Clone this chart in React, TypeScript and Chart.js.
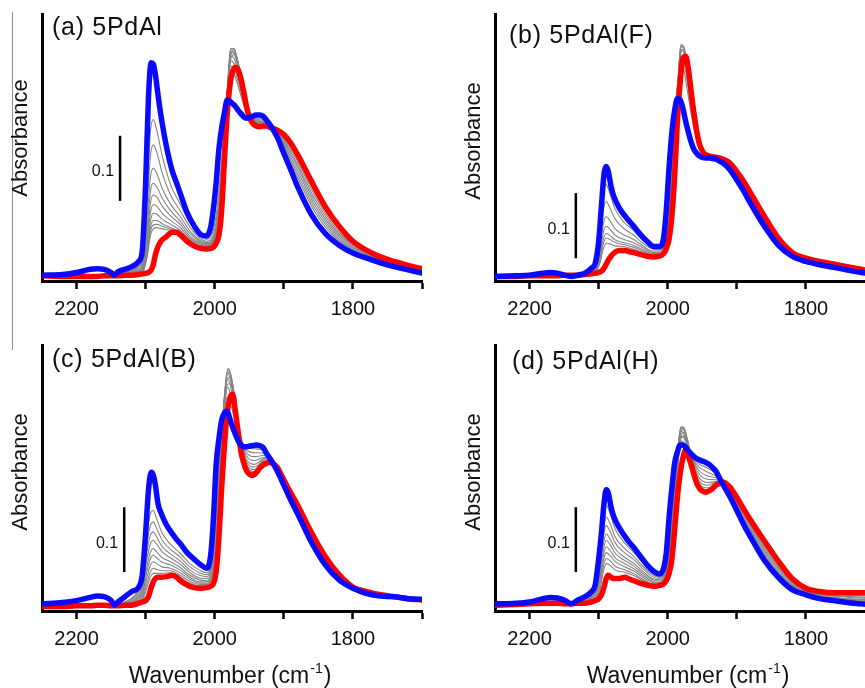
import { useEffect, useRef } from "react";
import { Chart, registerables } from "chart.js";

Chart.register(...registerables);

// ---------- data ----------
const WAVENUMBERS = [
  2250, 2220, 2200, 2180, 2170, 2160, 2150, 2145, 2140, 2130,
  2120, 2110, 2105, 2100, 2096, 2092, 2089, 2086, 2082, 2078,
  2070, 2062, 2055, 2050, 2040, 2030, 2020, 2012, 2006, 2002,
  1998, 1994, 1990, 1986, 1982, 1978, 1974, 1970, 1966, 1962,
  1958, 1954, 1950, 1945, 1940, 1935, 1930, 1925, 1920, 1910,
  1900, 1890, 1880, 1860, 1840, 1820, 1800, 1780, 1760, 1740,
  1720, 1700,
];

const GRAY_WAVENUMBERS = [
  2135, 2112, 2104, 2098, 2093, 2089, 2084, 2076, 2064, 2050,
  2036, 2022, 2012, 2004, 1998, 1992, 1986, 1981, 1977, 1972,
  1965, 1955, 1942, 1928, 1910, 1885, 1855, 1825, 1790, 1750,
  1700,
];

const X_TICK_LABELS = [2200, 2000, 1800];
const PANEL_LABELS = ["(a) 5PdAl", "(b) 5PdAl(F)", "(c) 5PdAl(B)", "(d) 5PdAl(H)"];
const Y_TITLE = "Absorbance";
const SCALE_BAR_VALUE = 0.1;
const SCALE_BAR_LABEL = "0.1";

// panel (a)
const RED_A = [
  0.008, 0.007, 0.007, 0.007, 0.007, 0.008, 0.008, 0.008, 0.008, 0.009,
  0.009, 0.010, 0.011, 0.012, 0.013, 0.017, 0.025, 0.040, 0.053, 0.061,
  0.068, 0.075, 0.075, 0.071, 0.061, 0.054, 0.050, 0.049, 0.050, 0.052,
  0.058, 0.070, 0.108, 0.185, 0.255, 0.300, 0.322, 0.328, 0.324, 0.310,
  0.290, 0.268, 0.252, 0.242, 0.238, 0.237, 0.238, 0.238, 0.236, 0.232,
  0.225, 0.212, 0.194, 0.153, 0.114, 0.084, 0.061, 0.047, 0.037, 0.030,
  0.024, 0.019,
];
const BLUE_A = [
  0.009, 0.010, 0.013, 0.018, 0.019, 0.018, 0.013, 0.009, 0.014, 0.018,
  0.022, 0.030, 0.045, 0.150, 0.280, 0.335, 0.333, 0.318, 0.285, 0.255,
  0.207, 0.171, 0.150, 0.135, 0.105, 0.085, 0.071, 0.069, 0.082, 0.110,
  0.150, 0.202, 0.235, 0.258, 0.278, 0.276, 0.272, 0.268, 0.262, 0.257,
  0.252, 0.250, 0.251, 0.253, 0.255, 0.255, 0.253, 0.247, 0.240, 0.222,
  0.196, 0.171, 0.145, 0.102, 0.073, 0.055, 0.043, 0.035, 0.028, 0.022,
  0.017, 0.012,
];
const GRAY_A = [
  [0.012, 0.022, 0.045, 0.140, 0.230, 0.248, 0.232, 0.192, 0.148, 0.118, 0.090, 0.070, 0.064, 0.072, 0.100, 0.160, 0.240, 0.300, 0.322, 0.318, 0.295, 0.262, 0.250, 0.248, 0.225, 0.170, 0.106, 0.066, 0.043, 0.028, 0.014],
  [0.012, 0.020, 0.038, 0.115, 0.192, 0.209, 0.198, 0.166, 0.132, 0.108, 0.083, 0.066, 0.061, 0.066, 0.090, 0.148, 0.232, 0.300, 0.330, 0.326, 0.302, 0.264, 0.248, 0.247, 0.226, 0.175, 0.111, 0.069, 0.045, 0.029, 0.015],
  [0.011, 0.018, 0.032, 0.095, 0.160, 0.173, 0.166, 0.142, 0.118, 0.099, 0.077, 0.063, 0.059, 0.063, 0.083, 0.138, 0.226, 0.302, 0.338, 0.334, 0.308, 0.266, 0.247, 0.245, 0.227, 0.180, 0.116, 0.072, 0.046, 0.029, 0.015],
  [0.011, 0.016, 0.027, 0.080, 0.138, 0.150, 0.145, 0.127, 0.108, 0.092, 0.073, 0.061, 0.057, 0.061, 0.078, 0.130, 0.220, 0.303, 0.345, 0.342, 0.314, 0.268, 0.246, 0.244, 0.228, 0.185, 0.121, 0.075, 0.048, 0.030, 0.016],
  [0.011, 0.015, 0.023, 0.068, 0.120, 0.132, 0.129, 0.115, 0.100, 0.087, 0.069, 0.059, 0.056, 0.059, 0.074, 0.124, 0.215, 0.304, 0.352, 0.350, 0.320, 0.270, 0.245, 0.243, 0.229, 0.189, 0.126, 0.078, 0.049, 0.031, 0.016],
  [0.010, 0.014, 0.020, 0.058, 0.105, 0.117, 0.115, 0.104, 0.093, 0.082, 0.066, 0.057, 0.055, 0.058, 0.070, 0.118, 0.210, 0.305, 0.357, 0.356, 0.325, 0.272, 0.244, 0.242, 0.230, 0.193, 0.131, 0.081, 0.050, 0.031, 0.017],
  [0.010, 0.013, 0.018, 0.050, 0.092, 0.104, 0.103, 0.095, 0.087, 0.078, 0.064, 0.055, 0.054, 0.057, 0.067, 0.112, 0.205, 0.305, 0.356, 0.357, 0.328, 0.273, 0.243, 0.241, 0.231, 0.197, 0.136, 0.085, 0.052, 0.032, 0.017],
  [0.010, 0.012, 0.016, 0.044, 0.082, 0.093, 0.093, 0.088, 0.082, 0.075, 0.062, 0.054, 0.053, 0.056, 0.064, 0.106, 0.200, 0.300, 0.350, 0.355, 0.330, 0.274, 0.242, 0.240, 0.231, 0.200, 0.140, 0.088, 0.053, 0.032, 0.018],
  [0.010, 0.011, 0.015, 0.040, 0.076, 0.086, 0.087, 0.084, 0.080, 0.074, 0.061, 0.053, 0.052, 0.055, 0.062, 0.100, 0.196, 0.298, 0.346, 0.352, 0.330, 0.275, 0.241, 0.239, 0.232, 0.201, 0.142, 0.089, 0.053, 0.033, 0.018],
  [0.009, 0.011, 0.014, 0.036, 0.070, 0.080, 0.082, 0.080, 0.078, 0.073, 0.060, 0.052, 0.051, 0.054, 0.061, 0.096, 0.193, 0.292, 0.340, 0.348, 0.328, 0.275, 0.241, 0.239, 0.232, 0.202, 0.143, 0.090, 0.054, 0.033, 0.019],
];

// panel (b)
const RED_B = [
  0.007, 0.007, 0.008, 0.008, 0.008, 0.008, 0.009, 0.009, 0.009, 0.009,
  0.010, 0.011, 0.012, 0.013, 0.015, 0.020, 0.026, 0.032, 0.038, 0.043,
  0.047, 0.047, 0.045, 0.044, 0.041, 0.038, 0.037, 0.038, 0.042, 0.050,
  0.065, 0.100, 0.160, 0.245, 0.305, 0.342, 0.345, 0.325, 0.290, 0.257,
  0.230, 0.210, 0.200, 0.194, 0.192, 0.191, 0.190, 0.189, 0.187, 0.181,
  0.168, 0.153, 0.135, 0.099, 0.066, 0.044, 0.035, 0.030, 0.026, 0.022,
  0.018, 0.014,
];
const BLUE_B = [
  0.007, 0.008, 0.009, 0.012, 0.013, 0.012, 0.009, 0.008, 0.007, 0.009,
  0.012, 0.020, 0.027, 0.060, 0.115, 0.166, 0.176, 0.168, 0.145, 0.130,
  0.112, 0.100, 0.091, 0.085, 0.072, 0.061, 0.053, 0.053, 0.066, 0.110,
  0.175, 0.228, 0.262, 0.280, 0.278, 0.265, 0.245, 0.228, 0.213, 0.202,
  0.196, 0.192, 0.190, 0.189, 0.189, 0.188, 0.187, 0.184, 0.181, 0.171,
  0.155, 0.138, 0.119, 0.084, 0.055, 0.038, 0.030, 0.025, 0.021, 0.017,
  0.013, 0.011,
];
const GRAY_B = [
  [0.010, 0.016, 0.030, 0.075, 0.135, 0.148, 0.135, 0.110, 0.091, 0.078, 0.063, 0.052, 0.051, 0.070, 0.140, 0.230, 0.300, 0.330, 0.325, 0.295, 0.250, 0.205, 0.191, 0.188, 0.175, 0.134, 0.081, 0.044, 0.028, 0.020, 0.012],
  [0.010, 0.015, 0.026, 0.062, 0.110, 0.122, 0.113, 0.095, 0.081, 0.071, 0.058, 0.049, 0.048, 0.062, 0.120, 0.215, 0.300, 0.345, 0.340, 0.308, 0.258, 0.207, 0.191, 0.188, 0.176, 0.136, 0.083, 0.045, 0.029, 0.021, 0.012],
  [0.010, 0.014, 0.022, 0.050, 0.089, 0.099, 0.093, 0.080, 0.071, 0.064, 0.054, 0.046, 0.046, 0.057, 0.105, 0.200, 0.295, 0.355, 0.352, 0.318, 0.264, 0.209, 0.192, 0.188, 0.177, 0.138, 0.085, 0.046, 0.030, 0.021, 0.013],
  [0.010, 0.013, 0.019, 0.042, 0.075, 0.084, 0.080, 0.070, 0.064, 0.059, 0.051, 0.044, 0.044, 0.054, 0.095, 0.190, 0.290, 0.361, 0.358, 0.325, 0.269, 0.210, 0.192, 0.189, 0.178, 0.140, 0.087, 0.047, 0.030, 0.022, 0.013],
  [0.010, 0.012, 0.017, 0.036, 0.065, 0.073, 0.070, 0.063, 0.059, 0.055, 0.048, 0.042, 0.042, 0.052, 0.088, 0.180, 0.285, 0.363, 0.360, 0.330, 0.273, 0.211, 0.192, 0.189, 0.179, 0.141, 0.088, 0.048, 0.031, 0.022, 0.013],
  [0.010, 0.012, 0.015, 0.032, 0.058, 0.066, 0.064, 0.059, 0.056, 0.052, 0.046, 0.041, 0.041, 0.050, 0.082, 0.170, 0.280, 0.358, 0.360, 0.333, 0.276, 0.212, 0.193, 0.189, 0.180, 0.142, 0.089, 0.048, 0.031, 0.023, 0.013],
  [0.010, 0.011, 0.014, 0.028, 0.050, 0.058, 0.057, 0.054, 0.053, 0.049, 0.044, 0.040, 0.040, 0.048, 0.076, 0.160, 0.272, 0.350, 0.356, 0.335, 0.279, 0.213, 0.193, 0.190, 0.180, 0.143, 0.090, 0.049, 0.031, 0.023, 0.014],
];

// panel (c)
const RED_C = [
  0.007, 0.007, 0.008, 0.008, 0.009, 0.009, 0.008, 0.008, 0.008, 0.009,
  0.009, 0.012, 0.014, 0.016, 0.022, 0.036, 0.045, 0.050, 0.052, 0.052,
  0.053, 0.055, 0.052, 0.047, 0.040, 0.036, 0.035, 0.036, 0.038, 0.042,
  0.060, 0.112, 0.190, 0.255, 0.305, 0.328, 0.334, 0.307, 0.275, 0.245,
  0.228, 0.216, 0.211, 0.209, 0.213, 0.220, 0.225, 0.228, 0.229, 0.222,
  0.202, 0.182, 0.163, 0.121, 0.084, 0.056, 0.037, 0.030, 0.025, 0.022,
  0.019, 0.017,
];
const BLUE_C = [
  0.011, 0.013, 0.016, 0.021, 0.023, 0.022, 0.016, 0.009, 0.014, 0.022,
  0.030, 0.037, 0.055, 0.120, 0.185, 0.214, 0.210, 0.195, 0.165, 0.152,
  0.133, 0.120, 0.110, 0.104, 0.090, 0.080, 0.071, 0.066, 0.085, 0.140,
  0.225, 0.265, 0.294, 0.305, 0.308, 0.296, 0.283, 0.272, 0.262, 0.256,
  0.253, 0.253, 0.254, 0.255, 0.256, 0.255, 0.252, 0.243, 0.235, 0.217,
  0.194, 0.171, 0.150, 0.106, 0.071, 0.048, 0.035, 0.027, 0.023, 0.022,
  0.019, 0.018,
];
const GRAY_C = [
  [0.011, 0.030, 0.055, 0.120, 0.150, 0.155, 0.142, 0.120, 0.103, 0.089, 0.073, 0.063, 0.059, 0.085, 0.180, 0.265, 0.315, 0.330, 0.318, 0.300, 0.272, 0.252, 0.250, 0.246, 0.218, 0.163, 0.098, 0.055, 0.032, 0.022, 0.018],
  [0.011, 0.027, 0.049, 0.105, 0.132, 0.137, 0.127, 0.109, 0.095, 0.083, 0.068, 0.059, 0.056, 0.078, 0.165, 0.258, 0.320, 0.345, 0.333, 0.310, 0.276, 0.250, 0.244, 0.243, 0.219, 0.164, 0.099, 0.056, 0.032, 0.022, 0.018],
  [0.010, 0.024, 0.043, 0.092, 0.117, 0.122, 0.114, 0.099, 0.088, 0.077, 0.063, 0.055, 0.053, 0.072, 0.150, 0.250, 0.325, 0.358, 0.346, 0.318, 0.279, 0.246, 0.238, 0.240, 0.220, 0.165, 0.100, 0.057, 0.032, 0.022, 0.018],
  [0.010, 0.021, 0.038, 0.081, 0.104, 0.109, 0.103, 0.091, 0.082, 0.072, 0.059, 0.051, 0.050, 0.066, 0.135, 0.240, 0.328, 0.366, 0.356, 0.326, 0.281, 0.241, 0.232, 0.237, 0.221, 0.166, 0.101, 0.058, 0.032, 0.022, 0.018],
  [0.010, 0.019, 0.033, 0.070, 0.091, 0.096, 0.091, 0.082, 0.076, 0.067, 0.055, 0.048, 0.047, 0.060, 0.120, 0.230, 0.330, 0.372, 0.363, 0.332, 0.283, 0.236, 0.226, 0.235, 0.222, 0.167, 0.102, 0.058, 0.032, 0.022, 0.018],
  [0.010, 0.017, 0.029, 0.061, 0.081, 0.086, 0.082, 0.075, 0.071, 0.063, 0.052, 0.045, 0.045, 0.055, 0.108, 0.220, 0.330, 0.374, 0.366, 0.336, 0.284, 0.232, 0.222, 0.233, 0.222, 0.168, 0.103, 0.059, 0.033, 0.023, 0.018],
  [0.009, 0.015, 0.025, 0.052, 0.071, 0.076, 0.073, 0.068, 0.066, 0.059, 0.049, 0.043, 0.043, 0.051, 0.095, 0.205, 0.325, 0.368, 0.364, 0.336, 0.283, 0.228, 0.218, 0.231, 0.222, 0.169, 0.104, 0.060, 0.033, 0.023, 0.018],
  [0.009, 0.014, 0.021, 0.043, 0.061, 0.066, 0.064, 0.062, 0.062, 0.055, 0.046, 0.041, 0.041, 0.048, 0.085, 0.190, 0.318, 0.360, 0.358, 0.334, 0.281, 0.225, 0.215, 0.229, 0.222, 0.170, 0.105, 0.060, 0.033, 0.023, 0.018],
  [0.009, 0.013, 0.018, 0.036, 0.053, 0.058, 0.058, 0.058, 0.059, 0.052, 0.043, 0.039, 0.039, 0.045, 0.075, 0.175, 0.305, 0.350, 0.350, 0.330, 0.278, 0.222, 0.213, 0.228, 0.222, 0.170, 0.106, 0.061, 0.033, 0.023, 0.018],
];

// panel (d)
const RED_D = [
  0.009, 0.010, 0.011, 0.012, 0.012, 0.012, 0.011, 0.011, 0.011, 0.012,
  0.012, 0.014, 0.016, 0.019, 0.025, 0.038, 0.050, 0.055, 0.052, 0.050,
  0.050, 0.052, 0.049, 0.047, 0.043, 0.040, 0.038, 0.039, 0.042, 0.047,
  0.058, 0.080, 0.125, 0.175, 0.212, 0.236, 0.248, 0.238, 0.225, 0.210,
  0.197, 0.189, 0.185, 0.183, 0.185, 0.189, 0.194, 0.197, 0.199, 0.191,
  0.175, 0.157, 0.140, 0.108, 0.077, 0.050, 0.035, 0.030, 0.028, 0.028,
  0.028, 0.028,
];
const BLUE_D = [
  0.011, 0.012, 0.014, 0.019, 0.021, 0.020, 0.017, 0.014, 0.011, 0.017,
  0.022, 0.030, 0.040, 0.080, 0.120, 0.168, 0.187, 0.182, 0.160, 0.145,
  0.128, 0.115, 0.105, 0.099, 0.085, 0.071, 0.061, 0.057, 0.066, 0.090,
  0.145, 0.190, 0.228, 0.245, 0.256, 0.256, 0.252, 0.247, 0.242, 0.238,
  0.235, 0.233, 0.231, 0.229, 0.226, 0.221, 0.215, 0.205, 0.195, 0.176,
  0.155, 0.133, 0.114, 0.078, 0.052, 0.033, 0.025, 0.019, 0.016, 0.013,
  0.011, 0.009,
];
const GRAY_D = [
  [0.013, 0.026, 0.045, 0.090, 0.142, 0.163, 0.152, 0.126, 0.107, 0.091, 0.074, 0.059, 0.054, 0.070, 0.130, 0.200, 0.245, 0.262, 0.260, 0.252, 0.240, 0.231, 0.225, 0.211, 0.178, 0.127, 0.075, 0.040, 0.023, 0.016, 0.011],
  [0.013, 0.024, 0.041, 0.080, 0.127, 0.145, 0.136, 0.114, 0.098, 0.085, 0.069, 0.056, 0.052, 0.065, 0.120, 0.192, 0.245, 0.270, 0.267, 0.256, 0.240, 0.227, 0.220, 0.209, 0.180, 0.130, 0.078, 0.042, 0.024, 0.017, 0.013],
  [0.013, 0.022, 0.037, 0.072, 0.116, 0.132, 0.124, 0.105, 0.091, 0.080, 0.065, 0.053, 0.050, 0.061, 0.110, 0.185, 0.245, 0.277, 0.274, 0.260, 0.239, 0.222, 0.214, 0.206, 0.182, 0.133, 0.081, 0.044, 0.025, 0.018, 0.014],
  [0.013, 0.020, 0.033, 0.064, 0.104, 0.119, 0.112, 0.096, 0.084, 0.074, 0.061, 0.050, 0.048, 0.057, 0.100, 0.177, 0.243, 0.282, 0.280, 0.264, 0.238, 0.217, 0.208, 0.204, 0.184, 0.136, 0.084, 0.046, 0.026, 0.019, 0.016],
  [0.013, 0.019, 0.030, 0.058, 0.095, 0.109, 0.103, 0.089, 0.079, 0.070, 0.058, 0.048, 0.046, 0.054, 0.092, 0.168, 0.240, 0.284, 0.283, 0.266, 0.236, 0.212, 0.203, 0.202, 0.186, 0.139, 0.087, 0.048, 0.027, 0.020, 0.017],
  [0.013, 0.018, 0.027, 0.052, 0.086, 0.099, 0.094, 0.082, 0.074, 0.066, 0.055, 0.046, 0.044, 0.052, 0.085, 0.160, 0.235, 0.282, 0.283, 0.266, 0.234, 0.206, 0.198, 0.200, 0.187, 0.141, 0.090, 0.050, 0.028, 0.022, 0.019],
  [0.012, 0.017, 0.024, 0.046, 0.078, 0.090, 0.086, 0.076, 0.069, 0.062, 0.052, 0.044, 0.043, 0.050, 0.078, 0.150, 0.228, 0.278, 0.280, 0.264, 0.231, 0.201, 0.194, 0.199, 0.188, 0.143, 0.093, 0.052, 0.029, 0.023, 0.021],
  [0.012, 0.016, 0.021, 0.040, 0.070, 0.081, 0.078, 0.069, 0.064, 0.058, 0.049, 0.042, 0.042, 0.048, 0.072, 0.140, 0.220, 0.272, 0.275, 0.261, 0.228, 0.197, 0.190, 0.197, 0.189, 0.145, 0.095, 0.053, 0.030, 0.025, 0.023],
  [0.012, 0.015, 0.019, 0.034, 0.062, 0.073, 0.071, 0.063, 0.060, 0.055, 0.047, 0.041, 0.041, 0.046, 0.066, 0.130, 0.210, 0.265, 0.270, 0.257, 0.225, 0.194, 0.187, 0.196, 0.190, 0.147, 0.097, 0.054, 0.031, 0.026, 0.025],
];

// ---------- layout / style ----------
const FONT = '"Liberation Sans", Arial, Helvetica, sans-serif';
const CANVAS_W = 432;
const Y_AXIS_W = 42;
const PLOT_BOTTOM = 281;
const X_MIN = 1700;
const X_MAX = 2250;
const Y_MIN = 0;
const Y_MAX = 0.41;

type PanelSpec = {
  label: string;
  red: number[];
  blue: number[];
  gray: number[][];
  left: number;
  top: number;
  height: number;
  padTop: number;
  titleDx: number;
  titleBaseline: number;
  barWn: number;
  barFrom: number;
  yTitleY: number;
  xTitleX: number | null;
};

const PANELS: PanelSpec[] = [
  { label: PANEL_LABELS[0], red: RED_A, blue: BLUE_A, gray: GRAY_A, left: 0, top: 0, height: 340, padTop: 14, titleDx: 10, titleBaseline: 35, barWn: 2137, barFrom: 0.123, yTitleY: 138, xTitleX: null },
  { label: PANEL_LABELS[1], red: RED_B, blue: BLUE_B, gray: GRAY_B, left: 453, top: 0, height: 340, padTop: 14, titleDx: 14, titleBaseline: 42.5, barWn: 2133, barFrom: 0.035, yTitleY: 141, xTitleX: null },
  { label: PANEL_LABELS[2], red: RED_C, blue: BLUE_C, gray: GRAY_C, left: 0, top: 330, height: 358, padTop: 15, titleDx: 10, titleBaseline: 36.7, barWn: 2131, barFrom: 0.06, yTitleY: 142, xTitleX: 230 },
  { label: PANEL_LABELS[3], red: RED_D, blue: BLUE_D, gray: GRAY_D, left: 453, top: 330, height: 358, padTop: 15, titleDx: 17, titleBaseline: 39, barWn: 2133, barFrom: 0.06, yTitleY: 142, xTitleX: 235 },
];

function zip(xs: number[], ys: number[]) {
  return xs.map((x, i) => ({ x, y: ys[i] }));
}

function Panel({ spec }: { spec: PanelSpec }) {
  const ref = useRef<HTMLCanvasElement | null>(null);

  useEffect(() => {
    const canvas = ref.current;
    if (!canvas) return;

    const lineCommon = {
      pointRadius: 0,
      pointHoverRadius: 0,
      fill: false,
      cubicInterpolationMode: "monotone" as const,
      borderJoinStyle: "round" as const,
      borderCapStyle: "round" as const,
    };

    const datasets: any[] = [
      { ...lineCommon, label: "final", data: zip(WAVENUMBERS, spec.blue), borderColor: "rgb(10,10,255)", borderWidth: 5.5, order: 0 },
      { ...lineCommon, label: "initial", data: zip(WAVENUMBERS, spec.red), borderColor: "rgb(255,0,0)", borderWidth: 5.5, order: 1 },
      ...spec.gray.map((g, i) => ({
        ...lineCommon,
        label: "t" + (i + 1),
        data: zip(GRAY_WAVENUMBERS, g),
        borderColor: "rgb(132,132,132)",
        borderWidth: 1.1,
        order: 2,
      })),
    ];

    const decor = {
      id: "decor",
      afterDraw(chart: any) {
        const { ctx, chartArea, scales } = chart;
        const xs = scales.x;
        const ys = scales.y;
        ctx.save();
        ctx.fillStyle = "#111";

        // panel label
        ctx.font = `25px ${FONT}`;
        (ctx as any).letterSpacing = "0.7px";
        ctx.textAlign = "left";
        ctx.textBaseline = "alphabetic";
        ctx.fillText(spec.label, chartArea.left + spec.titleDx, spec.titleBaseline);
        (ctx as any).letterSpacing = "0px";

        // y title
        ctx.save();
        ctx.translate(21, spec.yTitleY);
        ctx.rotate(-Math.PI / 2);
        ctx.font = `22px ${FONT}`;
        ctx.textAlign = "center";
        ctx.textBaseline = "middle";
        ctx.fillText(Y_TITLE, 0, 0);
        ctx.restore();

        // scale bar
        const bx = xs.getPixelForValue(spec.barWn);
        const by0 = ys.getPixelForValue(spec.barFrom);
        const by1 = ys.getPixelForValue(spec.barFrom + SCALE_BAR_VALUE);
        ctx.strokeStyle = "#000";
        ctx.lineWidth = 2.5;
        ctx.beginPath();
        ctx.moveTo(bx, by0);
        ctx.lineTo(bx, by1);
        ctx.stroke();
        ctx.font = `16px ${FONT}`;
        ctx.textAlign = "right";
        ctx.textBaseline = "middle";
        ctx.fillText(SCALE_BAR_LABEL, bx - 6, (by0 + by1) / 2 + 3.5);

        // x title
        if (spec.xTitleX !== null) {
          const main = "Wavenumber (cm";
          const sup = "-1";
          const close = ")";
          const base = 352.5;
          ctx.textAlign = "left";
          ctx.textBaseline = "alphabetic";
          ctx.font = `23px ${FONT}`;
          const w1 = ctx.measureText(main).width;
          const w3 = ctx.measureText(close).width;
          ctx.font = `14px ${FONT}`;
          const w2 = ctx.measureText(sup).width;
          const sx = spec.xTitleX - (w1 + w2 + w3 + 2) / 2;
          ctx.font = `23px ${FONT}`;
          ctx.fillText(main, sx, base);
          ctx.font = `14px ${FONT}`;
          ctx.fillText(sup, sx + w1 + 1, base - 10);
          ctx.font = `23px ${FONT}`;
          ctx.fillText(close, sx + w1 + w2 + 2, base);
        }
        ctx.restore();
      },
    };

    const chart = new Chart(canvas, {
      type: "line",
      data: { datasets },
      options: {
        animation: false,
        responsive: false,
        devicePixelRatio: 1,
        layout: { padding: { left: 0, right: 10, top: spec.padTop, bottom: 0 } },
        plugins: { legend: { display: false }, tooltip: { enabled: false } },
        events: [],
        scales: {
          x: {
            type: "linear",
            min: X_MIN,
            max: X_MAX,
            reverse: true,
            afterFit: (s: any) => {
              s.height = spec.height - PLOT_BOTTOM;
            },
            ticks: {
              stepSize: 100,
              includeBounds: false,
              autoSkip: false,
              maxRotation: 0,
              padding: 8,
              color: "#111",
              font: { family: FONT, size: 20 },
              callback: (v: any) => (X_TICK_LABELS.includes(Number(v)) ? String(v) : ""),
            },
            grid: {
              display: true,
              drawOnChartArea: false,
              drawTicks: true,
              tickLength: 8,
              tickWidth: 2.5,
              tickColor: "#000",
              color: "#000",
            },
            border: { display: true, color: "#000", width: 3 },
          },
          y: {
            type: "linear",
            min: Y_MIN,
            max: Y_MAX,
            afterFit: (s: any) => {
              s.width = Y_AXIS_W;
            },
            ticks: { display: false },
            grid: { display: false, drawTicks: false },
            border: { display: true, color: "#000", width: 3 },
          },
        },
      } as any,
      plugins: [decor],
    });

    return () => chart.destroy();
  }, [spec]);

  return (
    <canvas
      ref={ref}
      width={CANVAS_W}
      height={spec.height}
      style={{ position: "absolute", left: spec.left, top: spec.top, width: CANVAS_W, height: spec.height }}
    />
  );
}

export default function App() {
  return (
    <div
      style={{
        position: "fixed",
        left: 0,
        top: 0,
        width: 865,
        height: 688,
        overflow: "hidden",
        background: "#fff",
      }}
    >
      <div style={{ position: "absolute", left: 12, top: 12, width: 1, height: 338, background: "#8c8c8c" }} />
      {PANELS.map((p) => (
        <Panel key={p.label} spec={p} />
      ))}
    </div>
  );
}
